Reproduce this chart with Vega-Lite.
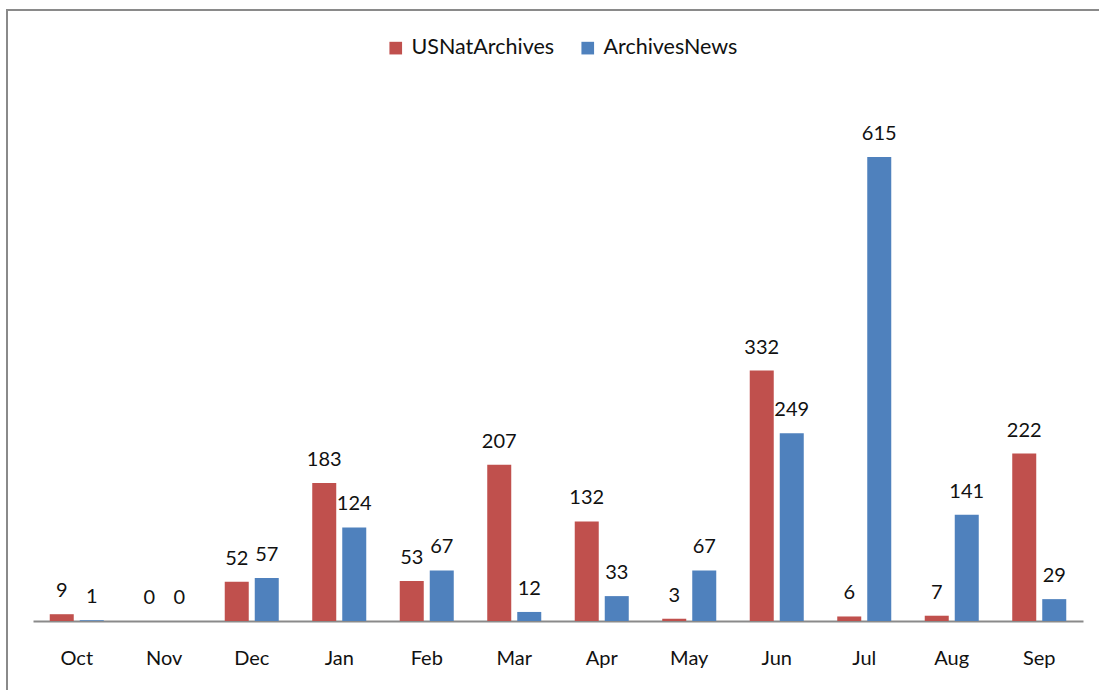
{
  "$schema": "https://vega.github.io/schema/vega-lite/v6.json",
  "autosize": "none",
  "padding": {"left": 7, "top": 10, "right": 0, "bottom": 0},
  "width": 1093,
  "height": 681,
  "background": "white",
  "config": {
    "view": {"stroke": "#8a8a8a", "strokeWidth": 2},
    "font": "Lato"
  },
  "data": {
    "values": [
      {"month": "Oct", "account": "USNatArchives", "value": 9},
      {"month": "Oct", "account": "ArchivesNews", "value": 1},
      {"month": "Nov", "account": "USNatArchives", "value": 0},
      {"month": "Nov", "account": "ArchivesNews", "value": 0},
      {"month": "Dec", "account": "USNatArchives", "value": 52},
      {"month": "Dec", "account": "ArchivesNews", "value": 57},
      {"month": "Jan", "account": "USNatArchives", "value": 183},
      {"month": "Jan", "account": "ArchivesNews", "value": 124},
      {"month": "Feb", "account": "USNatArchives", "value": 53},
      {"month": "Feb", "account": "ArchivesNews", "value": 67},
      {"month": "Mar", "account": "USNatArchives", "value": 207},
      {"month": "Mar", "account": "ArchivesNews", "value": 12},
      {"month": "Apr", "account": "USNatArchives", "value": 132},
      {"month": "Apr", "account": "ArchivesNews", "value": 33},
      {"month": "May", "account": "USNatArchives", "value": 3},
      {"month": "May", "account": "ArchivesNews", "value": 67},
      {"month": "Jun", "account": "USNatArchives", "value": 332},
      {"month": "Jun", "account": "ArchivesNews", "value": 249},
      {"month": "Jul", "account": "USNatArchives", "value": 6},
      {"month": "Jul", "account": "ArchivesNews", "value": 615},
      {"month": "Aug", "account": "USNatArchives", "value": 7},
      {"month": "Aug", "account": "ArchivesNews", "value": 141},
      {"month": "Sep", "account": "USNatArchives", "value": 222},
      {"month": "Sep", "account": "ArchivesNews", "value": 29}
    ]
  },
  "encoding": {
    "x": {
      "field": "month",
      "type": "nominal",
      "sort": ["Oct", "Nov", "Dec", "Jan", "Feb", "Mar", "Apr", "May", "Jun", "Jul", "Aug", "Sep"],
      "scale": {"range": [26, 1076], "paddingInner": 0, "paddingOuter": 0},
      "axis": {
        "title": null,
        "offset": -70,
        "ticks": false,
        "labelAngle": 0,
        "labelPadding": 27,
        "labelFontSize": 20,
        "labelColor": "#111111",
        "domainColor": "#8a8a8a",
        "domainWidth": 2,
        "grid": false
      }
    },
    "xOffset": {
      "field": "account",
      "type": "nominal",
      "sort": ["USNatArchives", "ArchivesNews"],
      "scale": {"paddingInner": 0.2, "paddingOuter": 0.558}
    },
    "y": {
      "field": "value",
      "type": "quantitative",
      "scale": {"domain": [0, 700], "range": [611, 83], "nice": false, "zero": true},
      "axis": null
    }
  },
  "layer": [
    {
      "mark": {"type": "bar"},
      "encoding": {
        "color": {
          "field": "account",
          "type": "nominal",
          "sort": ["USNatArchives", "ArchivesNews"],
          "scale": {"domain": ["USNatArchives", "ArchivesNews"], "range": ["#C0504D", "#4F81BD"]},
          "legend": {
            "title": null,
            "orient": "none",
            "direction": "horizontal",
            "legendX": 378,
            "legendY": 27,
            "padding": 0,
            "symbolType": "square",
            "symbolSize": 160,
            "symbolStrokeWidth": 0,
            "labelFontSize": 21.5,
            "labelColor": "#111111",
            "labelOffset": 5,
            "columnPadding": 22
          }
        }
      }
    },
    {
      "mark": {"type": "text", "dy": -17, "baseline": "alphabetic", "fontSize": 20, "color": "#111111"},
      "encoding": {"text": {"field": "value", "type": "quantitative"}}
    }
  ]
}
